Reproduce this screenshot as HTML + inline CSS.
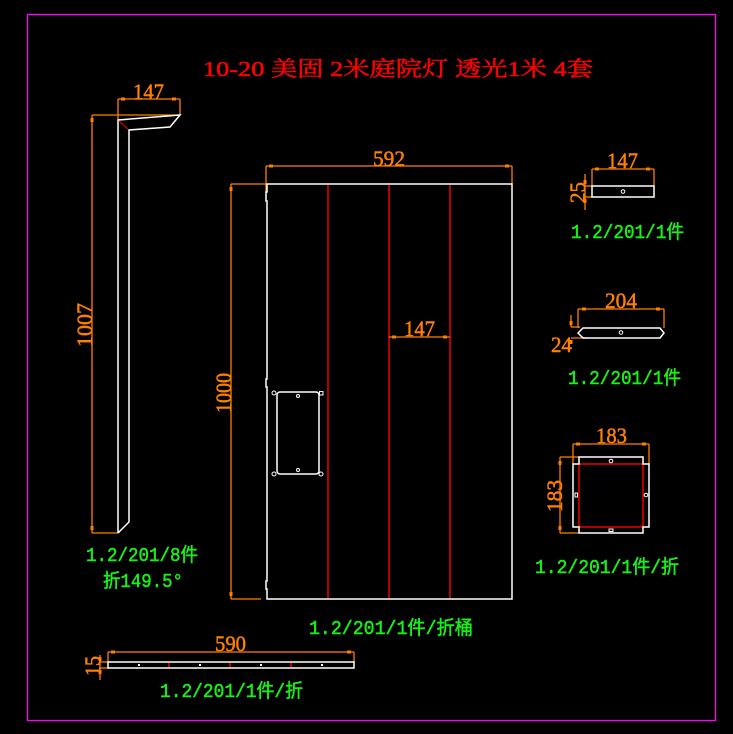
<!DOCTYPE html>
<html><head><meta charset="utf-8"><style>
html,body{margin:0;padding:0;background:#000;}
svg{display:block;}
text{font-family:"Liberation Serif","Noto Serif CJK SC","Noto Sans CJK SC",serif;}
.o{stroke:#ff8000;stroke-width:1.3;fill:none;}
.w{stroke:#fff;stroke-width:1.5;fill:none;}
.r{stroke:#ff0000;stroke-width:1.4;fill:none;}
.sq{fill:#ff8000;}
.dt{fill:#ff8000;font-size:22px;stroke:#ff8000;stroke-width:0.5;}
.g{fill:#19f019;font-size:19px;font-family:"Liberation Mono","Noto Sans CJK SC",monospace;stroke:#19f019;stroke-width:0.5;}
</style></head><body>
<svg width="733" height="734" viewBox="0 0 733 734" xmlns="http://www.w3.org/2000/svg">
<rect x="0" y="0" width="733" height="734" fill="#000"/>
<rect x="27.5" y="14.5" width="688" height="706" fill="none" stroke="#ff00ff" stroke-width="1.3"/>

<!-- title -->
<text x="203" y="76" fill="#ff0000" stroke="#ff0000" stroke-width="0.5" font-size="21" textLength="390" lengthAdjust="spacingAndGlyphs">10-20  美固 2米庭院灯 透光1米 4套</text>

<!-- ===== left pole ===== -->
<line class="o" x1="118" y1="99" x2="180" y2="99"/>
<line class="o" x1="118" y1="99" x2="118" y2="120"/>
<line class="o" x1="180" y1="99" x2="180" y2="115"/>
<rect class="sq" x="121" y="97.5" width="4" height="3"/>
<rect class="sq" x="172" y="97.5" width="4" height="3"/>
<text class="dt" x="133" y="99" textLength="31" lengthAdjust="spacingAndGlyphs">147</text>
<line class="o" x1="92" y1="115" x2="180" y2="115"/>
<line class="o" x1="92" y1="115" x2="92" y2="533"/>
<line class="o" x1="92" y1="533" x2="118" y2="533"/>
<rect class="sq" x="90.5" y="118" width="3" height="4"/>
<rect class="sq" x="90.5" y="526" width="3" height="4"/>
<text class="dt" transform="translate(92,347) rotate(-90)" textLength="44" lengthAdjust="spacingAndGlyphs">1007</text>
<path class="w" d="M118,533 L118,120 L180,115 L170,127 L129,130 L129,522 L118,533"/>
<line x1="119" y1="121" x2="128" y2="129" stroke="#ff0000" stroke-width="1"/>
<text class="g" x="86" y="561" textLength="112" lengthAdjust="spacingAndGlyphs">1.2/201/8件</text>
<text class="g" x="103" y="587" textLength="80" lengthAdjust="spacingAndGlyphs">折149.5°</text>

<!-- ===== main panel ===== -->
<line class="o" x1="266" y1="166" x2="512" y2="166"/>
<line class="o" x1="266" y1="166" x2="266" y2="192"/>
<line class="o" x1="512" y1="166" x2="512" y2="184"/>
<rect class="sq" x="269" y="164.5" width="4" height="3"/>
<rect class="sq" x="505" y="164.5" width="4" height="3"/>
<text class="dt" x="373" y="166" textLength="32" lengthAdjust="spacingAndGlyphs">592</text>
<line class="o" x1="231" y1="184" x2="266" y2="184"/>
<line class="o" x1="231" y1="184" x2="231" y2="599"/>
<line class="o" x1="231" y1="599" x2="261" y2="599"/>
<rect class="sq" x="229.5" y="187" width="3" height="4"/>
<rect class="sq" x="229.5" y="592" width="3" height="4"/>
<text class="dt" transform="translate(231,413) rotate(-90)" textLength="40" lengthAdjust="spacingAndGlyphs">1000</text>

<line class="r" x1="328" y1="185" x2="328" y2="598"/>
<line class="r" x1="389" y1="185" x2="389" y2="598"/>
<line class="r" x1="450" y1="185" x2="450" y2="598"/>
<path class="w" d="M267,184 L512,184 L512,599 L267,599 L267,589 L266,589 L266,581 L267,581 L267,387 L266,387 L266,379 L267,379 L267,201 L266,201 L266,192 L267,192 Z"/>

<line class="o" x1="389" y1="337" x2="450" y2="337"/>
<rect class="sq" x="392" y="335.5" width="4" height="3"/>
<rect class="sq" x="443" y="335.5" width="4" height="3"/>
<text class="dt" x="404" y="336" textLength="31" lengthAdjust="spacingAndGlyphs">147</text>

<rect class="w" x="277" y="392" width="42" height="82" rx="3"/>
<circle cx="274" cy="393" r="2" fill="none" stroke="#fff" stroke-width="1"/>
<rect x="319.5" y="391.5" width="3.5" height="3.5" fill="none" stroke="#fff" stroke-width="1"/>
<circle cx="274" cy="474" r="2" fill="none" stroke="#fff" stroke-width="1"/>
<circle cx="321" cy="474" r="2" fill="none" stroke="#fff" stroke-width="1"/>
<circle cx="298" cy="396" r="1.5" fill="none" stroke="#fff" stroke-width="1"/>
<circle cx="298" cy="470" r="1.5" fill="none" stroke="#fff" stroke-width="1"/>
<text class="g" x="309" y="634" textLength="164" lengthAdjust="spacingAndGlyphs">1.2/201/1件/折桶</text>

<!-- ===== right top 147x25 ===== -->
<line class="o" x1="592" y1="169" x2="654" y2="169"/>
<line class="o" x1="592" y1="169" x2="592" y2="186"/>
<line class="o" x1="654" y1="169" x2="654" y2="186"/>
<rect class="sq" x="595" y="167.5" width="4" height="3"/>
<rect class="sq" x="646" y="167.5" width="4" height="3"/>
<text class="dt" x="607" y="168" textLength="31" lengthAdjust="spacingAndGlyphs">147</text>
<line class="o" x1="585" y1="174" x2="585" y2="210"/>
<line class="o" x1="585" y1="186" x2="592" y2="186"/>
<line class="o" x1="585" y1="197" x2="592" y2="197"/>
<rect class="sq" x="583.5" y="180" width="3" height="4"/>
<rect class="sq" x="583.5" y="199" width="3" height="4"/>
<text class="dt" transform="translate(585,203) rotate(-90)" textLength="21" lengthAdjust="spacingAndGlyphs">25</text>
<rect class="w" x="592" y="186" width="62" height="11"/>
<circle cx="623" cy="191.5" r="1.8" fill="none" stroke="#fff" stroke-width="1"/>
<text class="g" x="571" y="238" textLength="113" lengthAdjust="spacingAndGlyphs">1.2/201/1件</text>

<!-- ===== right middle 204x24 ===== -->
<line class="o" x1="578" y1="309" x2="664" y2="309"/>
<line class="o" x1="578" y1="309" x2="578" y2="328"/>
<line class="o" x1="664" y1="309" x2="664" y2="328"/>
<rect class="sq" x="582" y="307.5" width="4" height="3"/>
<rect class="sq" x="656" y="307.5" width="4" height="3"/>
<text class="dt" x="605" y="308" textLength="32" lengthAdjust="spacingAndGlyphs">204</text>
<line class="o" x1="571" y1="315" x2="571" y2="327"/>
<line class="o" x1="571" y1="327" x2="580" y2="327"/>
<line class="o" x1="571" y1="338" x2="588" y2="338"/>
<rect class="sq" x="569.5" y="321" width="3" height="4"/>
<rect class="sq" x="569.5" y="340" width="3" height="4"/>
<text class="dt" x="551" y="352" textLength="21" lengthAdjust="spacingAndGlyphs">24</text>
<path class="w" d="M578,333 L583,328 L660,328 L664,333 L660,338 L583,338 Z"/>
<circle cx="621" cy="332.5" r="1.8" fill="none" stroke="#fff" stroke-width="1"/>
<text class="g" x="568" y="384" textLength="113" lengthAdjust="spacingAndGlyphs">1.2/201/1件</text>

<!-- ===== right square 183 ===== -->
<line class="o" x1="573" y1="444" x2="649" y2="444"/>
<line class="o" x1="573" y1="444" x2="573" y2="464"/>
<line class="o" x1="649" y1="444" x2="649" y2="464"/>
<rect class="sq" x="576" y="442.5" width="4" height="3"/>
<rect class="sq" x="642" y="442.5" width="4" height="3"/>
<text class="dt" x="596" y="443" textLength="31" lengthAdjust="spacingAndGlyphs">183</text>
<line class="o" x1="560" y1="457" x2="560" y2="533"/>
<line class="o" x1="560" y1="457" x2="579" y2="457"/>
<line class="o" x1="560" y1="533" x2="579" y2="533"/>
<rect class="sq" x="558.5" y="461" width="3" height="4"/>
<rect class="sq" x="558.5" y="526" width="3" height="4"/>
<text class="dt" transform="translate(562,512) rotate(-90)" textLength="32" lengthAdjust="spacingAndGlyphs">183</text>
<rect class="r" x="579" y="464" width="64" height="63"/>
<path class="w" d="M579,457 L643,457 L643,464 L649,464 L649,527 L643,527 L643,533 L579,533 L579,527 L573,527 L573,464 L579,464 Z"/>
<circle cx="611" cy="461" r="1.8" fill="none" stroke="#fff" stroke-width="1"/>
<circle cx="646" cy="495" r="1.8" fill="none" stroke="#fff" stroke-width="1"/>
<rect x="575" y="493" width="2.5" height="4" fill="none" stroke="#fff" stroke-width="1"/>
<rect x="609" y="529" width="4" height="2.5" fill="none" stroke="#fff" stroke-width="1"/>
<text class="g" x="535" y="573" textLength="144" lengthAdjust="spacingAndGlyphs">1.2/201/1件/折</text>

<!-- ===== bottom strip 590x15 ===== -->
<line class="o" x1="108" y1="652" x2="354" y2="652"/>
<line class="o" x1="108" y1="652" x2="108" y2="662"/>
<line class="o" x1="354" y1="652" x2="354" y2="662"/>
<rect class="sq" x="111" y="650.5" width="4" height="3"/>
<rect class="sq" x="347" y="650.5" width="4" height="3"/>
<text class="dt" x="215" y="651" textLength="31" lengthAdjust="spacingAndGlyphs">590</text>
<line class="o" x1="100" y1="655" x2="100" y2="680"/>
<line class="o" x1="100" y1="662" x2="108" y2="662"/>
<line class="o" x1="100" y1="668" x2="108" y2="668"/>
<rect class="sq" x="98.5" y="657" width="3" height="4"/>
<rect class="sq" x="98.5" y="670" width="3" height="4"/>
<text class="dt" transform="translate(100,676) rotate(-90)" textLength="20" lengthAdjust="spacingAndGlyphs">15</text>
<rect class="w" x="108" y="662" width="246" height="6"/>
<line class="r" x1="169" y1="663" x2="169" y2="667"/>
<line class="r" x1="230" y1="663" x2="230" y2="667"/>
<line class="r" x1="291" y1="663" x2="291" y2="667"/>
<rect x="138" y="664" width="2" height="2" fill="#fff"/>
<rect x="199" y="664" width="2" height="2" fill="#fff"/>
<rect x="260" y="664" width="2" height="2" fill="#fff"/>
<rect x="321" y="664" width="2" height="2" fill="#fff"/>
<text class="g" x="160" y="697" textLength="143" lengthAdjust="spacingAndGlyphs">1.2/201/1件/折</text>
</svg>
</body></html>
